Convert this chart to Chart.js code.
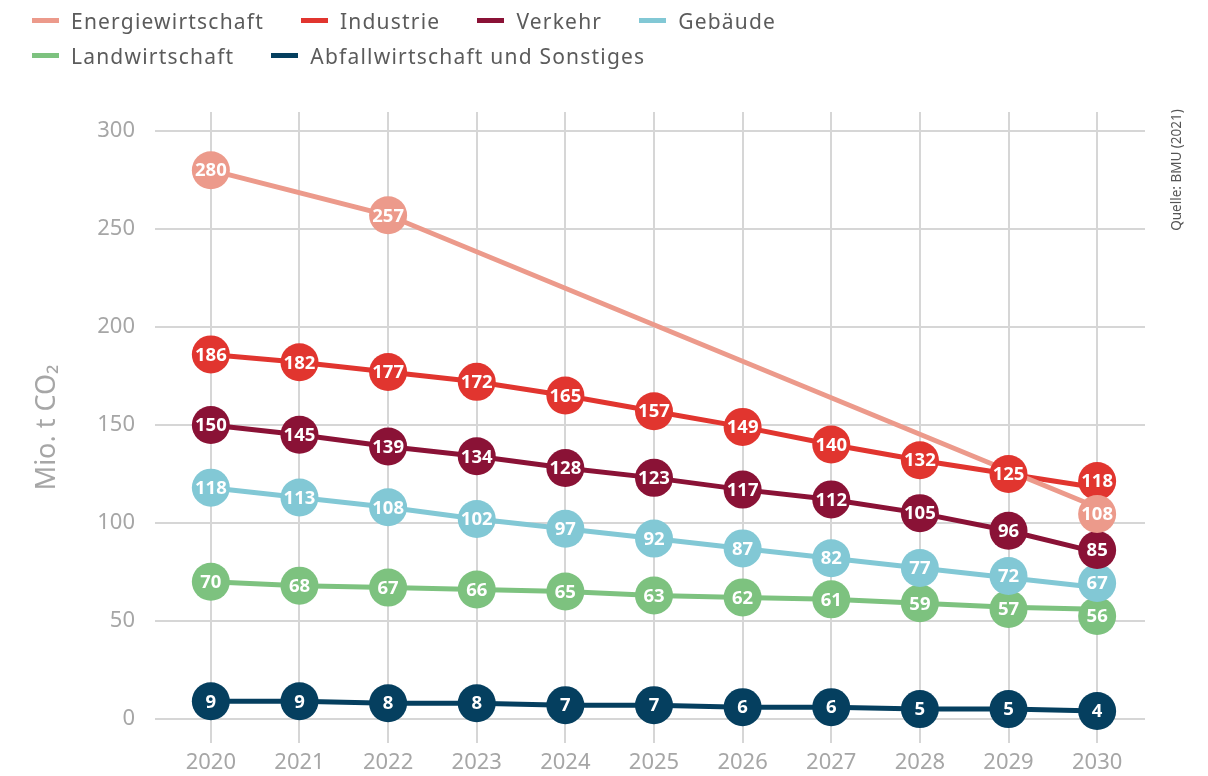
<!DOCTYPE html>
<html lang="de">
<head>
<meta charset="utf-8">
<title>Emissionen nach Sektoren</title>
<script src="https://cdn.jsdelivr.net/npm/chart.js@4.4.1/dist/chart.umd.min.js"></script>
<style>
  html, body { margin: 0; padding: 0; background: #fff; }
  #wrap { position: relative; width: 1208px; height: 776px; overflow: hidden; }
  #chart { position: absolute; left: 0; top: 0; }
  #legend { position: absolute; left: 32px; top: 3px; font-family: "Noto Sans", sans-serif; font-size: 21px; color: #5b5b5b; letter-spacing: 1.2px; }
  .row { display: flex; align-items: center; height: 35px; white-space: nowrap; }
  .item { display: flex; align-items: center; margin-right: 37px; }
  .swatch { width: 27px; height: 5px; margin-right: 12px; }
</style>
</head>
<body>
<div id="wrap">
  <canvas id="chart" width="1208" height="776"></canvas>
  <div id="legend"></div>
</div>
<script>
var years = [2020, 2021, 2022, 2023, 2024, 2025, 2026, 2027, 2028, 2029, 2030];
var yTicks = [0, 50, 100, 150, 200, 250, 300];

var sectors = ['Energiewirtschaft', 'Industrie', 'Verkehr', 'Gebäude', 'Landwirtschaft', 'Abfallwirtschaft und Sonstiges'];
var energiewirtschaft = [280, null, 257, null, null, null, null, null, null, null, 108];
var industrie = [186, 182, 177, 172, 165, 157, 149, 140, 132, 125, 118];
var verkehr = [150, 145, 139, 134, 128, 123, 117, 112, 105, 96, 85];
var gebaeude = [118, 113, 108, 102, 97, 92, 87, 82, 77, 72, 67];
var landwirtschaft = [70, 68, 67, 66, 65, 63, 62, 61, 59, 57, 56];
var abfall = [9, 9, 8, 8, 7, 7, 6, 6, 5, 5, 4];

var colors = ['#ec9a8b', '#e1352f', '#8a1236', '#82c8d5', '#7dc27f', '#053f5f'];
var legendRows = [[0, 1, 2, 3], [4, 5]];

var fontFamily = '"Noto Sans", sans-serif';
var axisGray = '#a6a6a6';

var series = [energiewirtschaft, industrie, verkehr, gebaeude, landwirtschaft, abfall];

// Kreise mit Werten, überlappende Kreise werden auseinandergeschoben
var bubblePlugin = {
    id: 'bubbles',
    afterDatasetsDraw: function (chart) {
        var ctx = chart.ctx;
        var r = 19, minGap = 33;
        var byIndex = [];
        chart.data.datasets.forEach(function (ds, d) {
            var meta = chart.getDatasetMeta(d);
            ds.data.forEach(function (v, i) {
                if (v === null) return;
                var pt = meta.data[i];
                (byIndex[i] = byIndex[i] || []).push({ x: pt.x, y: pt.y, v: v, color: ds.borderColor, d: d });
            });
        });
        ctx.save();
        byIndex.forEach(function (list) {
            list.sort(function (a, b) { return a.y - b.y; });
            for (var it = 0; it < 40; it++) {
                for (var k = 0; k < list.length - 1; k++) {
                    var gap = list[k + 1].y - list[k].y;
                    if (gap < minGap) {
                        var s = (minGap - gap) / 2;
                        list[k].y -= s;
                        list[k + 1].y += s;
                    }
                }
            }
            list.sort(function (a, b) { return b.d - a.d; });
            list.forEach(function (b) {
                ctx.beginPath();
                ctx.arc(b.x, b.y, r, 0, Math.PI * 2);
                ctx.fillStyle = b.color;
                ctx.fill();
                ctx.fillStyle = '#fff';
                ctx.font = 'bold 18.5px ' + fontFamily;
                ctx.textAlign = 'center';
                ctx.textBaseline = 'middle';
                ctx.fillText(String(b.v), b.x, b.y + 1);
            });
        });
        ctx.restore();
    }
};

var sourcePlugin = {
    id: 'source',
    afterDraw: function (chart) {
        var ctx = chart.ctx;
        ctx.save();
        ctx.translate(1177, 170);
        ctx.rotate(-Math.PI / 2);
        ctx.font = '13.5px ' + fontFamily;
        ctx.fillStyle = '#555';
        ctx.textAlign = 'center';
        ctx.textBaseline = 'middle';
        ctx.fillText('Quelle: BMU (2021)', 0, 0);
        ctx.restore();
    }
};

var chart = new Chart('chart', {
    type: 'line',
    data: {
        labels: years,
        datasets: sectors.map(function (name, i) {
            return {
                label: name,
                data: series[i],
                borderColor: colors[i],
                backgroundColor: colors[i],
                borderWidth: 5,
                tension: 0,
                pointRadius: 0,
                pointHoverRadius: 0,
                spanGaps: true,
                fill: false
            };
        })
    },
    options: {
        responsive: false,
        animation: false,
        devicePixelRatio: 1,
        events: [],
        layout: { padding: { top: 112, right: 63, left: 0, bottom: 0 } },
        plugins: {
            legend: { display: false },
            tooltip: { enabled: false }
        },
        scales: {
            x: {
                type: 'linear',
                min: 2019.37,
                max: 2030.54,
                afterBuildTicks: function (s) { s.ticks = years.map(function (v) { return { value: v }; }); },
                afterFit: function (s) { s.height = 31; },
                border: { display: false },
                grid: { color: '#d6d6d6', lineWidth: 2, drawTicks: false },
                ticks: {
                    autoSkip: false,
                    maxRotation: 0,
                    padding: 7,
                    color: axisGray,
                    font: { family: fontFamily, size: 22 },
                    callback: function (v) { return String(v); }
                }
            },
            y: {
                min: -12.2,
                max: 309.7,
                afterBuildTicks: function (s) { s.ticks = yTicks.map(function (v) { return { value: v }; }); },
                afterFit: function (s) { s.width = 155; },
                border: { display: false },
                grid: { color: '#d6d6d6', lineWidth: 2, drawTicks: false },
                ticks: {
                    padding: 20,
                    color: axisGray,
                    font: { family: fontFamily, size: 22 },
                    callback: function (v) { return String(v); }
                },
                title: {
                    display: true,
                    text: 'Mio. t CO₂',
                    color: axisGray,
                    font: { family: fontFamily, size: 27 },
                    padding: { top: 31, bottom: 0 }
                }
            }
        }
    },
    plugins: [bubblePlugin, sourcePlugin]
});

// Legende in zwei Zeilen wie im Original
var legend = document.getElementById('legend');
legendRows.forEach(function (row) {
    var rowDiv = document.createElement('div');
    rowDiv.className = 'row';
    row.forEach(function (i) {
        var item = document.createElement('span');
        item.className = 'item';
        var sw = document.createElement('span');
        sw.className = 'swatch';
        sw.style.background = colors[i];
        var txt = document.createElement('span');
        txt.textContent = sectors[i];
        item.appendChild(sw);
        item.appendChild(txt);
        rowDiv.appendChild(item);
    });
    legend.appendChild(rowDiv);
});
</script>
</body>
</html>
